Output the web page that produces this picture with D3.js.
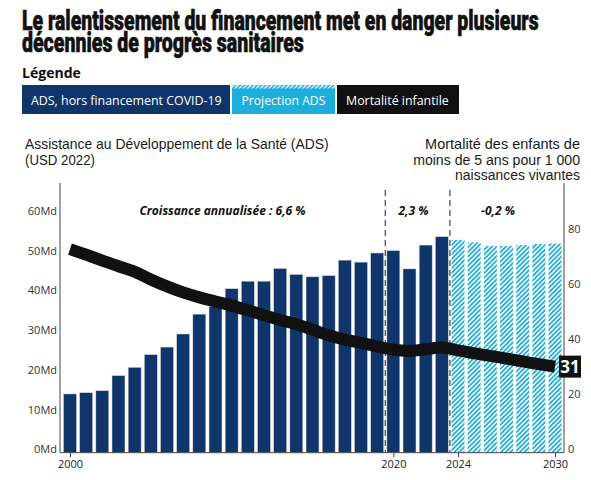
<!DOCTYPE html>
<html><head><meta charset="utf-8">
<script src="https://cdn.jsdelivr.net/npm/d3@7"></script>
<style>body{margin:0;background:#fff}svg{display:block}</style>
</head><body>
<svg id="c" width="591" height="480"></svg>
<script>
// ---- DATA ----
const years = [2000,2001,2002,2003,2004,2005,2006,2007,2008,2009,2010,2011,2012,2013,2014,2015,
  2016,2017,2018,2019,2020,2021,2022,2023,2024,2025,2026,2027,2028,2029,2030];
const actualYears = years.slice(0, 24);
const projectionYears = years.slice(24);
const adsActual = [14.8,15.1,15.6,19.4,21.5,24.7,26.6,29.9,34.9,36.8,41.3,43.2,43.2,46.4,44.9,44.3,
  44.6,48.5,48.0,50.3,50.9,46.3,52.3,54.4];
const adsProjection = [53.6,53.0,52.1,52.1,52.3,52.6,52.7];
const mortality = [73.8,71.8,69.6,67.6,65.6,62.8,60.3,58.1,56.3,54.8,53.3,51.6,49.8,48.1,46.6,44.6,
  42.6,41.0,39.8,38.5,37.3,36.9,37.5,38.1,37.1,36.0,35.1,34.1,33.1,32.1,31.2];
const leftTicks = [0,10,20,30,40,50,60];
const leftTickLabels = ["0Md","10Md","20Md","30Md","40Md","50Md","60Md"];
const rightTicks = [0,20,40,60,80];
const xTickYears = [2000,2020,2024,2030];
const periodBreaks = [[2019,2020],[2023,2024]];
const growthLabels = ["Croissance annualisée : 6,6 %","2,3 %","-0,2 %"];
const legendItems = ["ADS, hors financement COVID-19","Projection ADS","Mortalité infantile"];
const titleLines = ["Le ralentissement du financement met en danger plusieurs","décennies de progrès sanitaires"];
const leftTitle = ["Assistance au Développement de la Santé (ADS)","(USD 2022)"];
const rightTitle = ["Mortalité des enfants de","moins de 5 ans pour 1 000","naissances vivantes"];
const endLabel = "31";

// ---- STYLE ----
const NAVY = "#10356a", CYAN = "#1eaedb", BLACK = "#111111";
const FONT = "'Open Sans', 'Noto Sans', sans-serif";
const TFONT = "'Liberation Sans', Arial, sans-serif";
const TITLE_FONT = "Roboto, 'DejaVu Sans Condensed', sans-serif";

const svg = d3.select("#c");
const defs = svg.append("defs");
const pat = defs.append("pattern").attr("id","hatch").attr("patternUnits","userSpaceOnUse")
  .attr("width",3.3).attr("height",3.3).attr("patternTransform","rotate(45)");
pat.append("rect").attr("width",3.3).attr("height",3.3).attr("fill","#fff");
pat.append("rect").attr("width",1.75).attr("height",3.3).attr("fill",CYAN);
const pat2 = defs.append("pattern").attr("id","hatchW").attr("patternUnits","userSpaceOnUse")
  .attr("width",3).attr("height",3).attr("patternTransform","rotate(45)");
pat2.append("rect").attr("width",3).attr("height",3).attr("fill",CYAN);
pat2.append("rect").attr("width",1.3).attr("height",3).attr("fill","#fff");

// text squeezed horizontally to a measured width
function fitText(str, x, y, width, style, anchor){
  const t = svg.append("text").attr("x",0).attr("y",0).text(str).attr("text-anchor",anchor||"start");
  Object.entries(style).forEach(([k,v])=>t.attr(k,v));
  const w = t.node().getComputedTextLength();
  t.attr("transform",`translate(${x},${y}) scale(${(width/w).toFixed(4)},1)`);
  return t;
}

// ---- TITLE ----
const titleStyle = {"font-family":TITLE_FONT,"font-weight":900,"font-size":28,"fill":"#111",
  "stroke":"#111","stroke-width":0.6};
fitText(titleLines[0],22,30,517,titleStyle);
fitText(titleLines[1],22,51.5,282,titleStyle);
fitText("Légende",22,78,59,{"font-family":FONT,"font-weight":"bold","font-size":14,"fill":"#111"});

// ---- LEGEND ----
const legBoxes = [
  {x0:22, x1:230, fill:NAVY, tx:31, tw:191},
  {x0:232, x1:335, fill:CYAN, tx:241.5, tw:84},
  {x0:337, x1:459, fill:BLACK, tx:346, tw:103}
];
legBoxes.forEach((b,i)=>{
  svg.append("rect").attr("x",b.x0).attr("y",85).attr("width",b.x1-b.x0).attr("height",29).attr("fill",b.fill);
  if(i===1) svg.append("rect").attr("x",b.x0).attr("y",85).attr("width",b.x1-b.x0).attr("height",3.5).attr("fill","url(#hatchW)");
  fitText(legendItems[i],b.tx,105,b.tw,{"font-family":FONT,"font-size":13,"fill":"#fff"});
});

// ---- AXIS TITLES ----
const axStyle = {"font-family":TFONT,"font-size":13.8,"fill":"#1a1a1a"};
fitText(leftTitle[0],25,149,304,axStyle);
fitText(leftTitle[1],25,164.5,70,axStyle);
fitText(rightTitle[0],580,149,155,axStyle,"end");
fitText(rightTitle[1],580,164.5,167,axStyle,"end");
fitText(rightTitle[2],580,180,125,axStyle,"end");

// ---- SCALES ----
const x = d3.scaleBand().domain(years).range([61.9,563.1]).paddingInner(0.2).paddingOuter(0.1);
const xc = d => x(d) + x.bandwidth()/2;
const yL = d3.scaleLinear().domain([0,60]).range([452.7,214.5]);
const yR = d3.scaleLinear().domain([0,80]).range([452.7,232]);

// ---- BARS ----
svg.append("g").selectAll("rect").data(actualYears).join("rect")
  .attr("x",d=>x(d)).attr("width",x.bandwidth())
  .attr("y",(d,i)=>yL(adsActual[i])).attr("height",(d,i)=>yL(0)-yL(adsActual[i]))
  .attr("fill",NAVY).attr("stroke","#c9d2de").attr("stroke-width",0.5);
svg.append("g").selectAll("rect").data(projectionYears).join("rect")
  .attr("x",d=>x(d)).attr("width",x.bandwidth())
  .attr("y",(d,i)=>yL(adsProjection[i])).attr("height",(d,i)=>yL(0)-yL(adsProjection[i]))
  .attr("fill","url(#hatch)");

// ---- PERIOD DIVIDERS ----
periodBreaks.forEach(([a,b])=>{
  const px = (xc(a)+xc(b))/2;
  svg.append("line").attr("x1",px).attr("x2",px).attr("y1",190).attr("y2",yL(0))
    .attr("stroke","#333").attr("stroke-width",1.1).attr("stroke-dasharray","6,4");
});
const glX = [222.5, 413.5, 498];
growthLabels.forEach((t,i)=>{
  svg.append("text").attr("x",glX[i]).attr("y",215).attr("text-anchor","middle").text(t)
    .attr("font-family",FONT).attr("font-size",12).attr("font-weight","bold").attr("font-style","italic")
    .attr("fill","#111");
});

// ---- AXES ----
const gL = svg.append("g").attr("transform","translate(60,0)")
  .call(d3.axisLeft(yL).tickValues(leftTicks).tickSize(0).tickPadding(3).tickFormat((d,i)=>leftTickLabels[i]));
gL.select(".domain").remove();
gL.selectAll("text").attr("font-family",FONT).attr("font-size",11).attr("fill","#333").attr("dy","0");
const gR = svg.append("g").attr("transform","translate(564,0)")
  .call(d3.axisRight(yR).tickValues(rightTicks).tickSize(0).tickPadding(4));
gR.select(".domain").remove();
gR.selectAll("text").attr("font-family",FONT).attr("font-size",11).attr("fill","#333").attr("dy","0");
const gX = svg.append("g").attr("transform",`translate(0,${yL(0)})`)
  .call(d3.axisBottom(d3.scaleLinear().domain([2000,2030]).range([xc(2000),xc(2030)]))
    .tickValues(xTickYears).tickSize(4.5).tickPadding(3).tickFormat(d3.format("d")));
gX.select(".domain").remove();
gX.selectAll("line").attr("stroke","#444");
gX.selectAll("text").attr("font-family",FONT).attr("font-size",11).attr("fill","#222");

svg.append("line").attr("x1",60).attr("x2",60).attr("y1",183).attr("y2",yL(0)).attr("stroke","#444");
svg.append("line").attr("x1",564).attr("x2",564).attr("y1",183).attr("y2",yL(0)).attr("stroke","#444");
svg.append("line").attr("x1",60).attr("x2",564).attr("y1",yL(0)).attr("y2",yL(0)).attr("stroke","#444");

// ---- MORTALITY LINE ----
const line = d3.line().x((d,i)=>xc(years[i])).y(d=>yR(d)).curve(d3.curveMonotoneX);
svg.append("path").datum(mortality).attr("d",line).attr("fill","none")
  .attr("stroke",BLACK).attr("stroke-width",12);

// ---- END LABEL ----
const ly = yR(mortality[mortality.length-1]);
svg.append("rect").attr("x",559).attr("y",ly-11).attr("width",22).attr("height",22).attr("fill",BLACK);
svg.append("text").attr("x",570).attr("y",ly+6).attr("text-anchor","middle").text(endLabel)
  .attr("font-family",FONT).attr("font-weight","bold").attr("font-size",17).attr("fill","#fff");
</script>
</body></html>
